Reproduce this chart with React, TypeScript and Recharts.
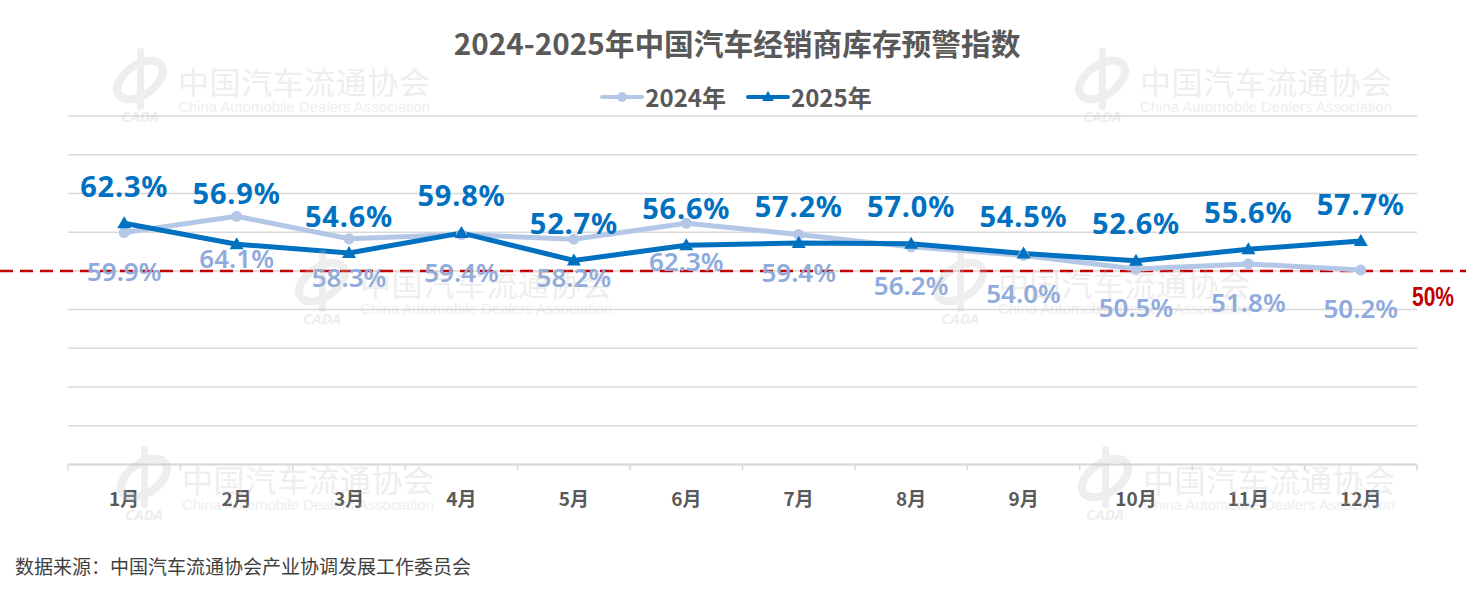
import React from 'react';
import { LineChart, Line, XAxis, YAxis, CartesianGrid, Legend, ReferenceLine, LabelList } from 'recharts';

// 2024-2025 dealer inventory warning index (%)
const months = ['1月', '2月', '3月', '4月', '5月', '6月', '7月', '8月', '9月', '10月', '11月', '12月'];
const index2024 = [59.9, 64.1, 58.3, 59.4, 58.2, 62.3, 59.4, 56.2, 54.0, 50.5, 51.8, 50.2];
const index2025 = [62.3, 56.9, 54.6, 59.8, 52.7, 56.6, 57.2, 57.0, 54.5, 52.6, 55.6, 57.7];
const yTicks = [0, 10, 20, 30, 40, 50, 60, 70, 80, 90];
const warningLevel = 50;

const W = 1472;
const H = 589;
const PLOT_LEFT = 68;
const PLOT_RIGHT = 1417;
const PLOT_TOP = 116;
const PLOT_BOTTOM = 464.5;
const X_AXIS_H = 40;
const band = (PLOT_RIGHT - PLOT_LEFT) / months.length;

const C2024 = '#B4C7E7';
const C2025 = '#0070C0';
const LABEL2024 = '#8FAADC';
const RED = '#C00000';
const TEXT = '#595959';
const GRID = '#D9D9D9';
const CJK = '"Noto Sans CJK SC", "Noto Sans", sans-serif';
const NUM = '"Noto Sans", "Noto Sans CJK SC", sans-serif';
const NARROW = '"Liberation Sans Narrow", "Liberation Sans", sans-serif';

const data = months.map((m, i) => ({ month: m, y2024: index2024[i], y2025: index2025[i] }));

const MonthTick = (props: any) => {
  const { x, y, payload, index } = props;
  const axisY = y - 8;
  const last = index === months.length - 1;
  return (
    <g>
      <line x1={x - band / 2} x2={x - band / 2} y1={axisY} y2={axisY + 6} stroke={GRID} strokeWidth={1.5} />
      {last && <line x1={x + band / 2} x2={x + band / 2} y1={axisY} y2={axisY + 6} stroke={GRID} strokeWidth={1.5} />}
      <text x={x} y={axisY + 33} textAnchor="middle" dominantBaseline="central"
        fontSize={19} fontWeight={700} fill={TEXT} fontFamily={CJK}>{payload.value}</text>
    </g>
  );
};

const CircleDot = (props: any) => {
  const { cx, cy } = props;
  if (cx == null || cy == null) return null;
  return <circle cx={cx} cy={cy} r={5.5} fill={C2024} />;
};

const TriangleDot = (props: any) => {
  const { cx, cy } = props;
  if (cx == null || cy == null) return null;
  return <path d={`M${cx},${cy - 7} L${cx + 7},${cy + 5} L${cx - 7},${cy + 5} Z`} fill={C2025} />;
};

// 2025 labels sit above the points, 2024 labels below
const Label2025 = (props: any) => {
  const { x, y, value, index } = props;
  const off = index === 1 ? 52 : 38;
  return (
    <text x={x} y={y - off} textAnchor="middle" dominantBaseline="central"
      fontSize={29} fontWeight={700} fill={C2025} fontFamily={NUM} letterSpacing={0.8}>{Number(value).toFixed(1)}%</text>
  );
};

const Label2024 = (props: any) => {
  const { x, y, value, index } = props;
  const off = index === 1 ? 42 : 38;
  return (
    <text x={x} y={y + off} textAnchor="middle" dominantBaseline="central"
      fontSize={26} fontWeight={600} fill={LABEL2024} fontFamily={NUM}>{Number(value).toFixed(1)}%</text>
  );
};

const LegendContent = (props: any) => {
  const { payload = [] } = props;
  return (
    <div style={{ display: 'flex', justifyContent: 'center', alignItems: 'center', height: 30 }}>
      {payload.map((p: any, i: number) => (
        <div key={i} style={{ display: 'flex', alignItems: 'center', marginLeft: i ? 20 : 0 }}>
          <svg width={44} height={16}>
            <line x1={2} x2={42} y1={8} y2={8} stroke={p.color} strokeWidth={4} strokeLinecap="round" />
            {p.dataKey === 'y2024'
              ? <circle cx={22} cy={8} r={5} fill={p.color} />
              : <path d="M22,2 L28,12 L16,12 Z" fill={p.color} />}
          </svg>
          <span style={{ marginLeft: 1, fontFamily: CJK, fontWeight: 700, fontSize: 24, color: TEXT, lineHeight: '30px' }}>
            {p.value}
          </span>
        </div>
      ))}
    </div>
  );
};

const WarningLine = (props: any) => {
  const { y1 } = props;
  return <line x1={0} x2={1466} y1={y1} y2={y1} stroke={RED} strokeWidth={2.5} strokeDasharray="13 7" />;
};

const WarningLabel = (props: any) => {
  const { viewBox } = props;
  if (!viewBox) return null;
  return (
    <text x={viewBox.x + viewBox.width + 16} y={viewBox.y + 26} textAnchor="middle" dominantBaseline="central"
      fontSize={27} fontWeight={700} fill={RED} fontFamily={NARROW} textLength={42} lengthAdjust="spacingAndGlyphs">50%</text>
  );
};

// faint association watermark, repeated over the chart
const markOffsets = [[0, 0], [962, 0], [182, 202], [820, 202], [4, 398], [965, 398]];

const Watermark = ({ dx, dy }: { dx: number; dy: number }) => (
  <g transform={`translate(${dx},${dy})`} fill="#c4c4c4" opacity={0.28}>
    <g transform="translate(140,80) rotate(-35)">
      <ellipse cx={0} cy={0} rx={26} ry={15} fill="none" stroke="#c4c4c4" strokeWidth={8} />
      <rect x={-3} y={-32} width={7} height={62} rx={3} transform="rotate(35)" />
    </g>
    <text x={140} y={122} textAnchor="middle" fontSize={15} fontWeight={700} fontStyle="italic" fontFamily={NUM}>CADA</text>
    <text x={178} y={80} dominantBaseline="central" fontSize={31} fontFamily={CJK} textLength={252}>中国汽车流通协会</text>
    <text x={178} y={112} fontSize={15} fontFamily={NARROW} textLength={252}>China Automobile Dealers Association</text>
  </g>
);

export default function App() {
  return (
    <div style={{ position: 'absolute', left: 0, top: 0, width: W, height: H, background: '#fff', overflow: 'hidden' }}>
      <svg width={W} height={70} style={{ position: 'absolute', left: 0, top: 0 }}>
        <text x={737} y={42} textAnchor="middle" dominantBaseline="central" fontSize={29.7} fontWeight={700}
          fill={TEXT} fontFamily={CJK}>2024-2025年中国汽车经销商库存预警指数</text>
      </svg>
      <div style={{ position: 'absolute', left: 0, top: 0 }}>
        <LineChart width={W} height={H} data={data}
          margin={{ top: PLOT_TOP, right: W - PLOT_RIGHT, bottom: H - PLOT_BOTTOM - X_AXIS_H, left: PLOT_LEFT }}>
          <CartesianGrid vertical={false} stroke={GRID} strokeWidth={1.5} />
          <XAxis dataKey="month" height={X_AXIS_H} interval={0} tickLine={false}
            padding={{ left: band / 2, right: band / 2 }}
            axisLine={{ stroke: GRID, strokeWidth: 2 }} tick={<MonthTick />} />
          <YAxis hide type="number" domain={[0, 90]} ticks={yTicks} />
          <Legend verticalAlign="middle" align="center" content={<LegendContent />}
            wrapperStyle={{ top: 82, left: 0, width: W }} />
          <ReferenceLine y={warningLevel} shape={<WarningLine />} label={<WarningLabel />} />
          <Line dataKey="y2024" name="2024年" stroke={C2024} strokeWidth={5} dot={<CircleDot />}
            activeDot={false} isAnimationActive={false}>
            <LabelList dataKey="y2024" content={<Label2024 />} />
          </Line>
          <Line dataKey="y2025" name="2025年" stroke={C2025} strokeWidth={5} dot={<TriangleDot />}
            activeDot={false} isAnimationActive={false}>
            <LabelList dataKey="y2025" content={<Label2025 />} />
          </Line>
        </LineChart>
      </div>
      <svg width={W} height={H} style={{ position: 'absolute', left: 0, top: 0, pointerEvents: 'none' }}>
        {markOffsets.map(([dx, dy], i) => <Watermark key={i} dx={dx} dy={dy} />)}
      </svg>
      <svg width={W} height={40} style={{ position: 'absolute', left: 0, top: 545 }}>
        <text x={15} y={20} dominantBaseline="central" fontSize={19} fill="#404040" fontFamily={CJK}>
          数据来源：中国汽车流通协会产业协调发展工作委员会
        </text>
      </svg>
    </div>
  );
}
